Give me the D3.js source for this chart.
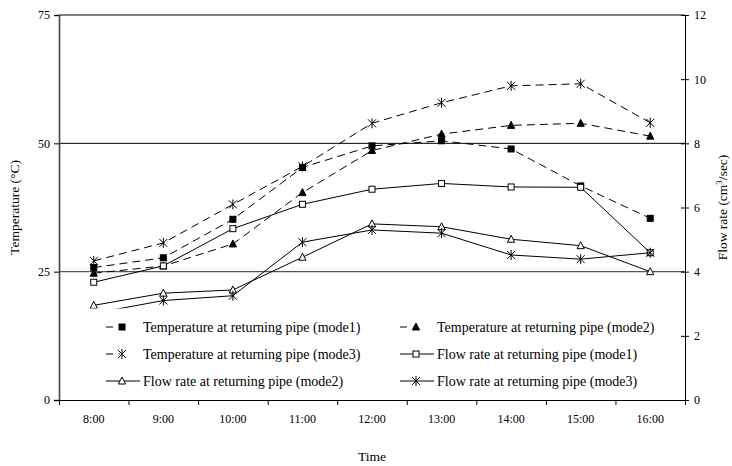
<!DOCTYPE html>
<html><head><meta charset="utf-8">
<script src="https://cdn.jsdelivr.net/npm/d3@7"></script>
<style>body{margin:0;background:#fff;} svg{display:block;font-family:"Liberation Serif","Times New Roman",serif;} svg text{font-family:"Liberation Serif","Times New Roman",serif !important;}</style>
</head><body>
<svg id="c" width="732" height="466"></svg>
<script>
const times = ["8:00","9:00","10:00","11:00","12:00","13:00","14:00","15:00","16:00"];
const tempMode1 = [25.8, 27.7, 35.2, 45.3, 49.5, 50.5, 48.9, 41.7, 35.4];
const tempMode2 = [24.7, 26.1, 30.4, 40.4, 48.6, 51.8, 53.5, 53.9, 51.4];
const tempMode3 = [27.1, 30.6, 38.1, 45.5, 53.9, 57.9, 61.2, 61.6, 54.0];
const flowMode1 = [3.67, 4.18, 5.34, 6.10, 6.57, 6.75, 6.64, 6.63, 4.59];
const flowMode2 = [2.95, 3.33, 3.43, 4.45, 5.49, 5.40, 5.01, 4.81, 4.00];
const flowMode3 = [2.70, 3.10, 3.25, 4.92, 5.30, 5.20, 4.52, 4.39, 4.59];
const tempTicks = [0, 25, 50, 75];
const flowTicks = [0, 2, 4, 6, 8, 10, 12];
const legendLabels = [
  "Temperature at returning pipe (mode1)",
  "Temperature at returning pipe (mode2)",
  "Temperature at returning pipe (mode3)",
  "Flow rate at returning pipe (mode1)",
  "Flow rate at returning pipe (mode2)",
  "Flow rate at returning pipe (mode3)"
];

const L = 59, R = 685, T = 15, B = 400;
const svg = d3.select("#c");
const x = d3.scaleBand().domain(times).range([L, R]);
const xEdge = d3.scaleLinear().domain([0, times.length]).range([L, R]);
const yT = d3.scaleLinear().domain([0, 75]).range([B, T]);
const yF = d3.scaleLinear().domain([0, 12]).range([B, T]);
const cx = d => x(d) + x.bandwidth() / 2;

// gridlines
svg.append("g").selectAll("line").data([25, 50, 75]).join("line")
  .attr("x1", L).attr("x2", R).attr("y1", d => yT(d)).attr("y2", d => yT(d))
  .attr("stroke", d => d === 25 ? "#555" : "#000").attr("stroke-width", d => d === 25 ? 1.4 : 1);

// axes
const gl = svg.append("g").attr("transform", `translate(${L},0)`)
  .call(d3.axisLeft(yT).tickValues(tempTicks).tickSize(5).tickPadding(4));
gl.select(".domain").attr("stroke", "#444").attr("stroke-width", 1.6);
const gr = svg.append("g").attr("transform", `translate(${R},0)`)
  .call(d3.axisRight(yF).tickValues(flowTicks).tickSize(4).tickPadding(5).tickSizeOuter(0));
gr.selectAll(".tick line").attr("x1", -4);
const gb = svg.append("g").attr("transform", `translate(0,${B})`)
  .call(d3.axisBottom(xEdge).tickValues(d3.range(0, times.length + 1)).tickFormat("").tickSize(5).tickSizeOuter(0));
const gbl = svg.append("g").attr("transform", `translate(0,${B})`)
  .call(d3.axisBottom(x).tickSize(0).tickPadding(14));
gbl.select(".domain").remove();
svg.selectAll("g").attr("font-family", null);
svg.selectAll(".tick text").attr("font-size", 12).attr("fill", "#000");

// marker drawing
function marker(g, type, px, py) {
  if (type === "fsq" || type === "osq") {
    g.append("rect").attr("x", px - 3).attr("y", py - 3).attr("width", 6).attr("height", 6)
      .attr("fill", type === "fsq" ? "#000" : "#fff").attr("stroke", "#000").attr("stroke-width", 1);
  } else if (type === "ftri" || type === "otri") {
    g.append("path").attr("d", `M${px},${py - 4}L${px + 3.6},${py + 3}L${px - 3.6},${py + 3}Z`)
      .attr("fill", type === "ftri" ? "#000" : "#fff").attr("stroke", "#000").attr("stroke-width", 1);
  } else {
    g.append("path").attr("d",
      `M${px - 4},${py - 4}L${px + 4},${py + 4}M${px + 4},${py - 4}L${px - 4},${py + 4}M${px},${py - 5}L${px},${py + 5}`)
      .attr("fill", "none").attr("stroke", "#000").attr("stroke-width", 1);
  }
}

const series = [
  {vals: tempMode1, sc: yT, dash: "8,5", m: "fsq"},
  {vals: tempMode2, sc: yT, dash: "8,5", m: "ftri"},
  {vals: tempMode3, sc: yT, dash: "8,5", m: "star"},
  {vals: flowMode1, sc: yF, dash: null, m: "osq"},
  {vals: flowMode2, sc: yF, dash: null, m: "otri"},
  {vals: flowMode3, sc: yF, dash: null, m: "star"}
];

series.forEach(s => {
  const line = d3.line().x((d, i) => cx(times[i])).y(d => s.sc(d));
  svg.append("path").datum(s.vals).attr("d", line).attr("fill", "none")
    .attr("stroke", "#000").attr("stroke-width", 1).attr("stroke-dasharray", s.dash);
  const g = svg.append("g");
  s.vals.forEach((v, i) => marker(g, s.m, cx(times[i]), s.sc(v)));
});

// legend
const leg = svg.append("g");
leg.append("rect").attr("x", 84).attr("y", 308.5).attr("width", 584).attr("height", 86).attr("fill", "#fff");
const colX = [106, 400], rowY = [327, 354, 381];
series.forEach((s, i) => {
  const c = i % 2, r = Math.floor(i / 2);
  const lx = colX[c], ly = rowY[r];
  leg.append("line").attr("x1", lx).attr("x2", lx + 34).attr("y1", ly).attr("y2", ly)
    .attr("stroke", "#000").attr("stroke-width", 1).attr("stroke-dasharray", s.dash ? "7,6,1,20" : null);
  marker(leg, s.m, lx + 16, ly);
  leg.append("text").attr("x", lx + 37).attr("y", ly + 5).attr("font-size", 14).text(legendLabels[i]);
});

// axis titles
svg.append("text").attr("transform", `translate(19,${(T + B) / 2}) rotate(-90)`).attr("text-anchor", "middle")
  .attr("font-size", 13.5).text("Temperature (°C)");
const rt = svg.append("text").attr("transform", `translate(727,${(T + B) / 2}) rotate(-90)`).attr("text-anchor", "middle")
  .attr("font-size", 13.5);
rt.append("tspan").text("Flow rate (cm");
rt.append("tspan").attr("dy", -5).attr("font-size", 9).text("3");
rt.append("tspan").attr("dy", 5).text("/sec)");
svg.append("text").attr("x", 372).attr("y", 461).attr("text-anchor", "middle").attr("font-size", 13.5).text("Time");
</script>
</body></html>
